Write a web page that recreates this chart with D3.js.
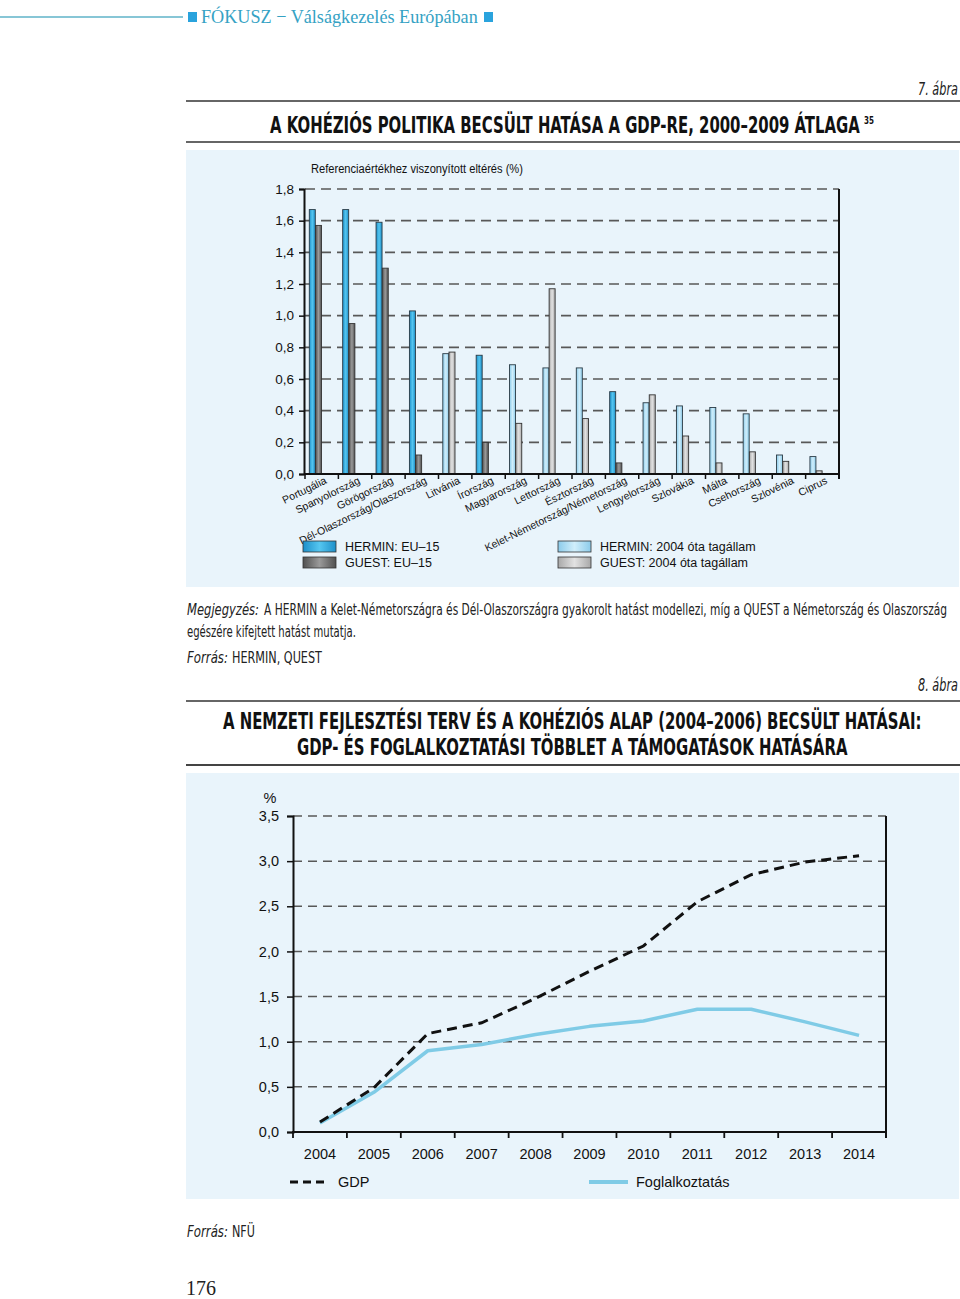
<!DOCTYPE html>
<html><head><meta charset="utf-8">
<script src="https://cdn.jsdelivr.net/npm/d3@7"></script>
<style>
html,body{margin:0;padding:0;background:#fff;}
svg{display:block;}
</style></head>
<body>
<svg id="chart" width="960" height="1299"></svg>
<script>
// ---------- DATA ----------
const categories = ["Portugália","Spanyolország","Görögország","Dél-Olaszország/Olaszország","Litvánia","Írország","Magyarország","Lettország","Észtország","Kelet-Németország/Németország","Lengyelország","Szlovákia","Málta","Csehország","Szlovénia","Ciprus"];
const groups = ["EU15","EU15","EU15","EU15","NEW","EU15","NEW","NEW","NEW","EU15","NEW","NEW","NEW","NEW","NEW","NEW"];
const herminValues = [1.67,1.67,1.59,1.03,0.76,0.75,0.69,0.67,0.67,0.52,0.45,0.43,0.42,0.38,0.12,0.11];
const guestValues  = [1.57,0.95,1.30,0.12,0.77,0.20,0.32,1.17,0.35,0.07,0.50,0.24,0.07,0.14,0.08,0.02];
const yTicks1 = [0,0.2,0.4,0.6,0.8,1.0,1.2,1.4,1.6,1.8];
const legend1 = ["HERMIN: EU–15","GUEST: EU–15","HERMIN: 2004 óta tagállam","GUEST: 2004 óta tagállam"];

const years = ["2004","2005","2006","2007","2008","2009","2010","2011","2012","2013","2014"];
const gdpValues = [0.11,0.49,1.09,1.21,1.48,1.78,2.06,2.55,2.85,2.99,3.06];
const employmentValues = [0.10,0.44,0.90,0.97,1.08,1.17,1.23,1.36,1.36,1.22,1.07];
const yTicks2 = [0,0.5,1.0,1.5,2.0,2.5,3.0,3.5];

const fmt = d => d.toFixed(1).replace(".", ",");
const svg = d3.select("#chart");
const NARROW = "'Liberation Sans Narrow','DejaVu Sans Condensed','Roboto Condensed',sans-serif";
const ARIAL = "'Liberation Sans',Arial,sans-serif";

// ---------- gradients ----------
const defs = svg.append("defs");
function grad(id, edge, mid){
  const g = defs.append("linearGradient").attr("id", id).attr("x1",0).attr("x2",1).attr("y1",0).attr("y2",0);
  g.append("stop").attr("offset","0%").attr("stop-color",edge);
  g.append("stop").attr("offset","50%").attr("stop-color",mid);
  g.append("stop").attr("offset","100%").attr("stop-color",edge);
}
grad("gHE","#1d8fc9","#55c6f0");
grad("gGE","#505050","#9a9a9a");
grad("gHN","#8ccbea","#d0eefb");
grad("gGN","#a8a8a8","#e2e2e2");
const fillFor = (kind, grp) => kind==="H" ? (grp==="EU15"?"url(#gHE)":"url(#gHN)") : (grp==="EU15"?"url(#gGE)":"url(#gGN)");

// text squeezed horizontally to a target width (x = left edge, or right edge if opts.end)
function fitText(x, y, str, len, opts){
  const t = svg.append("text").attr("x",0).attr("y",0).attr("font-family",opts.family||NARROW)
    .attr("font-size",opts.size||15).attr("fill",opts.fill||"#222").text(str);
  if (opts.italic) t.attr("font-style","italic");
  if (opts.bold) t.attr("font-weight","bold");
  const w = t.node().getComputedTextLength();
  const s = w > 0 ? len / w : 1;
  const left = opts.end ? x - len : x;
  t.attr("transform",`translate(${left},${y}) scale(${s},1)`);
  return t;
}

// ---------- header ----------
svg.append("line").attr("x1",0).attr("x2",183).attr("y1",17).attr("y2",17).attr("stroke","#5fb3c9").attr("stroke-width",1.5);
svg.append("rect").attr("x",188).attr("y",12).attr("width",9).attr("height",10).attr("fill","#2aa3dd");
fitText(201, 23, "FÓKUSZ − Válságkezelés Európában", 277, {family:"'Liberation Serif','DejaVu Serif',serif", size:19, fill:"#35a2c4"});
svg.append("rect").attr("x",484).attr("y",12).attr("width",9).attr("height",10).attr("fill","#2aa3dd");

// ---------- Figure 7 title ----------
fitText(958, 95, "7. ábra", 40, {italic:true, size:18, end:true});
svg.append("line").attr("x1",186).attr("x2",960).attr("y1",101).attr("y2",101).attr("stroke","#333").attr("stroke-width",1.5);
fitText(270, 133, "A KOHÉZIÓS POLITIKA BECSÜLT HATÁSA A GDP-RE, 2000–2009 ÁTLAGA", 590, {size:23, bold:true, fill:"#111"});
fitText(864, 124, "35", 10, {size:11, bold:true, fill:"#111"});
svg.append("line").attr("x1",186).attr("x2",960).attr("y1",142).attr("y2",142).attr("stroke","#333").attr("stroke-width",1.5);

// ---------- Figure 7 panel ----------
svg.append("rect").attr("x",186).attr("y",150).attr("width",773).attr("height",437).attr("fill","#e9f4fb");

const x1 = d3.scaleBand().domain(categories).range([305,839]).padding(0);
const y1 = d3.scaleLinear().domain([0,1.8]).range([474,189]);

// gridlines
svg.append("g").selectAll("line").data(yTicks1.filter(d=>d>0)).join("line")
  .attr("x1",305).attr("x2",839).attr("y1",d=>y1(d)).attr("y2",d=>y1(d))
  .attr("stroke","#585858").attr("stroke-width",1.6).attr("stroke-dasharray","10,6");

// y axis
const ya1 = svg.append("g").attr("transform","translate(304,0)").call(d3.axisLeft(y1).tickValues(yTicks1).tickFormat(fmt).tickSize(5));
ya1.select(".domain").attr("stroke","#111").attr("stroke-width",2);
ya1.selectAll(".tick line").attr("stroke","#111").attr("stroke-width",1.5);
ya1.selectAll(".tick text").attr("font-family",ARIAL).attr("font-size",13.5).attr("fill","#111").attr("x",-10);

// bars
const bars = svg.append("g");
categories.forEach((c,i)=>{
  bars.append("rect").attr("x",x1(c)+4.3).attr("y",y1(herminValues[i])).attr("width",6).attr("height",y1(0)-y1(herminValues[i]))
    .attr("fill",fillFor("H",groups[i])).attr("stroke","#2a3a44").attr("stroke-width",0.9);
  bars.append("rect").attr("x",x1(c)+10.5).attr("y",y1(guestValues[i])).attr("width",6).attr("height",y1(0)-y1(guestValues[i]))
    .attr("fill",fillFor("G",groups[i])).attr("stroke","#333").attr("stroke-width",0.9);
});

// x axis
svg.append("line").attr("x1",304).attr("x2",840).attr("y1",474).attr("y2",474).attr("stroke","#111").attr("stroke-width",2);
svg.append("g").selectAll("line").data(d3.range(categories.length+1)).join("line")
  .attr("x1",i=> 305 + i*x1.bandwidth()).attr("x2",i=> 305 + i*x1.bandwidth())
  .attr("y1",474).attr("y2",479).attr("stroke","#111").attr("stroke-width",1.5);
svg.append("line").attr("x1",839).attr("x2",839).attr("y1",189).attr("y2",479).attr("stroke","#111").attr("stroke-width",2);

// category labels
svg.append("g").selectAll("text").data(categories).join("text")
  .attr("transform",d=>`translate(${x1(d)+x1.bandwidth()-11},${483}) rotate(-26)`)
  .attr("text-anchor","end").attr("font-family",ARIAL).attr("font-size",10.6).attr("fill","#111")
  .text(d=>d);

// axis title
fitText(311, 173, "Referenciaértékhez viszonyított eltérés (%)", 212, {family:ARIAL, size:12.5, fill:"#111"});

// legend 1
const leg1 = [
  {label:legend1[0], fill:"url(#gHE)", x:303, y:541},
  {label:legend1[1], fill:"url(#gGE)", x:303, y:557},
  {label:legend1[2], fill:"url(#gHN)", x:558, y:541},
  {label:legend1[3], fill:"url(#gGN)", x:558, y:557}
];
const lg1 = svg.append("g").selectAll("g").data(leg1).join("g");
lg1.append("rect").attr("x",d=>d.x).attr("y",d=>d.y).attr("width",33).attr("height",11).attr("fill",d=>d.fill).attr("stroke","#333").attr("stroke-width",0.8);
lg1.append("text").attr("x",d=>d.x+42).attr("y",d=>d.y+10).attr("font-family",ARIAL).attr("font-size",12.5).attr("fill","#111").text(d=>d.label);

// notes
fitText(187, 615, "Megjegyzés:", 72, {italic:true, size:15.5});
fitText(264, 615, "A HERMIN a Kelet-Németországra és Dél-Olaszországra gyakorolt hatást modellezi, míg a QUEST a Németország és Olaszország", 684, {size:15});
fitText(187, 637, "egészére kifejtett hatást mutatja.", 169, {size:15});
fitText(187, 663, "Forrás:", 41, {italic:true, size:15.5});
fitText(232, 663, "HERMIN, QUEST", 90, {size:15});

// ---------- Figure 8 title ----------
fitText(958, 691, "8. ábra", 40, {italic:true, size:18, end:true});
svg.append("line").attr("x1",186).attr("x2",960).attr("y1",701).attr("y2",701).attr("stroke","#333").attr("stroke-width",1.5);
fitText(223, 729, "A NEMZETI FEJLESZTÉSI TERV ÉS A KOHÉZIÓS ALAP (2004–2006) BECSÜLT HATÁSAI:", 699, {size:23, bold:true, fill:"#111"});
fitText(297, 755, "GDP- ÉS FOGLALKOZTATÁSI TÖBBLET A TÁMOGATÁSOK HATÁSÁRA", 551, {size:23, bold:true, fill:"#111"});
svg.append("line").attr("x1",186).attr("x2",960).attr("y1",765).attr("y2",765).attr("stroke","#444").attr("stroke-width",2);

// ---------- Figure 8 panel ----------
svg.append("rect").attr("x",186).attr("y",773).attr("width",773).attr("height",426).attr("fill","#e9f4fb");

const x2 = d3.scaleBand().domain(years).range([293,886]).padding(0);
const y2 = d3.scaleLinear().domain([0,3.5]).range([1132,816]);
const cx = d => x2(d)+x2.bandwidth()/2;

svg.append("g").selectAll("line").data(yTicks2.filter(d=>d>0)).join("line")
  .attr("x1",293).attr("x2",886).attr("y1",d=>y2(d)).attr("y2",d=>y2(d))
  .attr("stroke","#585858").attr("stroke-width",1.5).attr("stroke-dasharray","9,6");

const ya2 = svg.append("g").attr("transform","translate(293,0)").call(d3.axisLeft(y2).tickValues(yTicks2).tickFormat(fmt).tickSize(6));
ya2.select(".domain").attr("stroke","#111").attr("stroke-width",2);
ya2.selectAll(".tick line").attr("stroke","#111").attr("stroke-width",1.5);
ya2.selectAll(".tick text").attr("font-family",ARIAL).attr("font-size",14.5).attr("fill","#111").attr("x",-14);
svg.append("text").attr("x",270).attr("y",803).attr("text-anchor","middle").attr("font-family",ARIAL).attr("font-size",14.5).attr("fill","#111").text("%");

// x axis 2
svg.append("line").attr("x1",292).attr("x2",887).attr("y1",1132).attr("y2",1132).attr("stroke","#111").attr("stroke-width",2);
svg.append("g").selectAll("line").data(d3.range(years.length+1)).join("line")
  .attr("x1",i=>293+i*x2.bandwidth()).attr("x2",i=>293+i*x2.bandwidth())
  .attr("y1",1132).attr("y2",1138).attr("stroke","#111").attr("stroke-width",1.8);
svg.append("line").attr("x1",886).attr("x2",886).attr("y1",816).attr("y2",1138).attr("stroke","#111").attr("stroke-width",2);
svg.append("g").selectAll("text").data(years).join("text")
  .attr("x",d=>cx(d)).attr("y",1159).attr("text-anchor","middle").attr("font-family",ARIAL).attr("font-size",14.5).attr("fill","#111").text(d=>d);

// lines
const lineGen = d3.line().x((d,i)=>cx(years[i])).y(d=>y2(d));
svg.append("path").datum(employmentValues).attr("d",lineGen).attr("fill","none").attr("stroke","#7fcbe6").attr("stroke-width",3.5).attr("stroke-linejoin","round");
svg.append("path").datum(gdpValues).attr("d",lineGen).attr("fill","none").attr("stroke","#111").attr("stroke-width",3).attr("stroke-dasharray","10,6");

// legend 2
svg.append("line").attr("x1",290).attr("x2",329).attr("y1",1182).attr("y2",1182).attr("stroke","#111").attr("stroke-width",3).attr("stroke-dasharray","8,5");
svg.append("text").attr("x",338).attr("y",1187).attr("font-family",ARIAL).attr("font-size",14.5).attr("fill","#111").text("GDP");
svg.append("line").attr("x1",589).attr("x2",628).attr("y1",1182).attr("y2",1182).attr("stroke","#7fcbe6").attr("stroke-width",4);
svg.append("text").attr("x",636).attr("y",1187).attr("font-family",ARIAL).attr("font-size",14.5).attr("fill","#111").text("Foglalkoztatás");

// footer
fitText(187, 1237, "Forrás:", 41, {italic:true, size:15.5});
fitText(232, 1237, "NFÜ", 23, {size:15});
svg.append("text").attr("x",186).attr("y",1295).attr("font-family","'Liberation Serif','DejaVu Serif',serif").attr("font-size",20).attr("fill","#222").text("176");
</script>
</body></html>
